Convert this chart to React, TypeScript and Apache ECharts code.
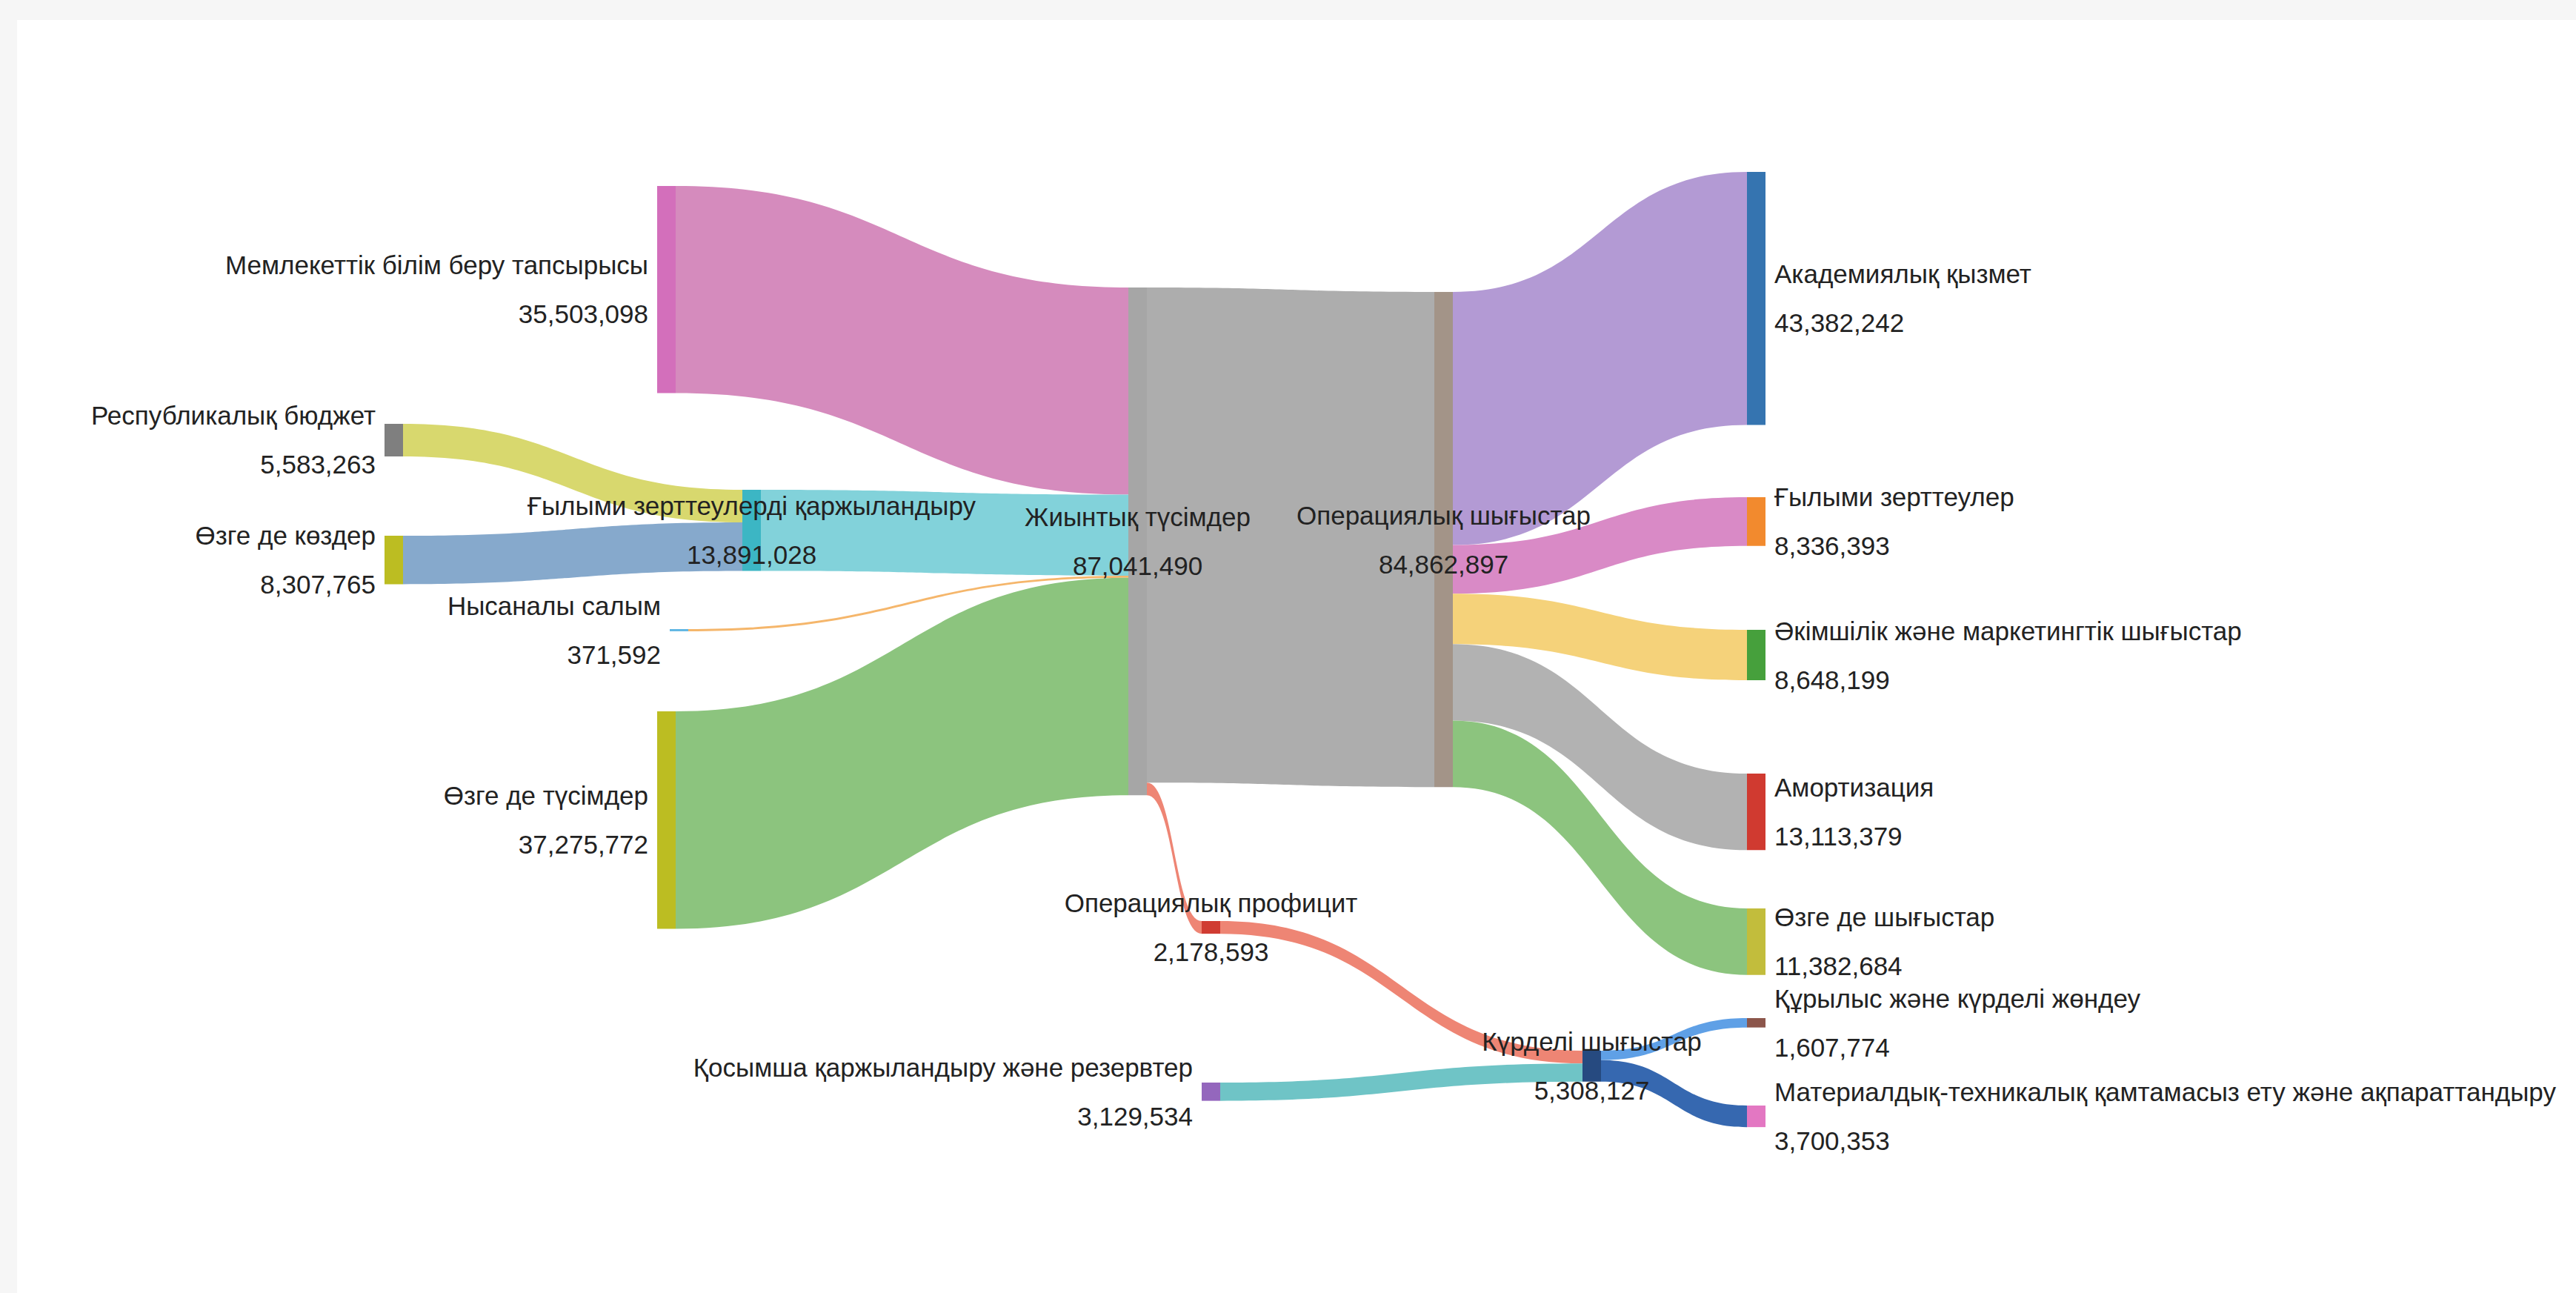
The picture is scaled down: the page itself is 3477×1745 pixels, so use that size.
import React, { useEffect, useRef } from "react";
import * as echarts from "echarts";

// ---------- DATA ----------
const nodeNames: string[] = [
  "Республикалық бюджет",
  "Өзге де көздер",
  "Мемлекеттік білім беру тапсырысы",
  "Ғылыми зерттеулерді қаржыландыру",
  "Нысаналы салым",
  "Өзге де түсімдер",
  "Жиынтық түсімдер",
  "Операциялық шығыстар",
  "Операциялық профицит",
  "Қосымша қаржыландыру және резервтер",
  "Күрделі шығыстар",
  "Академиялық қызмет",
  "Ғылыми зерттеулер",
  "Әкімшілік және маркетингтік шығыстар",
  "Амортизация",
  "Өзге де шығыстар",
  "Құрылыс және күрделі жөндеу",
  "Материалдық-техникалық қамтамасыз ету және ақпараттандыру",
];

const nodeValues: number[] = [
  5583263, 8307765, 35503098, 13891028, 371592, 37275772, 87041490, 84862897,
  2178593, 3129534, 5308127, 43382242, 8336393, 8648199, 13113379, 11382684,
  1607774, 3700353,
];

const linkSources: string[] = [
  "Республикалық бюджет",
  "Өзге де көздер",
  "Мемлекеттік білім беру тапсырысы",
  "Ғылыми зерттеулерді қаржыландыру",
  "Нысаналы салым",
  "Өзге де түсімдер",
  "Жиынтық түсімдер",
  "Жиынтық түсімдер",
  "Операциялық шығыстар",
  "Операциялық шығыстар",
  "Операциялық шығыстар",
  "Операциялық шығыстар",
  "Операциялық шығыстар",
  "Операциялық профицит",
  "Қосымша қаржыландыру және резервтер",
  "Күрделі шығыстар",
  "Күрделі шығыстар",
];

const linkTargets: string[] = [
  "Ғылыми зерттеулерді қаржыландыру",
  "Ғылыми зерттеулерді қаржыландыру",
  "Жиынтық түсімдер",
  "Жиынтық түсімдер",
  "Жиынтық түсімдер",
  "Жиынтық түсімдер",
  "Операциялық шығыстар",
  "Операциялық профицит",
  "Академиялық қызмет",
  "Ғылыми зерттеулер",
  "Әкімшілік және маркетингтік шығыстар",
  "Амортизация",
  "Өзге де шығыстар",
  "Күрделі шығыстар",
  "Күрделі шығыстар",
  "Құрылыс және күрделі жөндеу",
  "Материалдық-техникалық қамтамасыз ету және ақпараттандыру",
];

const linkValues: number[] = [
  5583263, 8307765, 35503098, 13891028, 371592, 37275772, 84862897, 2178593,
  43382242, 8336393, 8648199, 13113379, 11382684, 2178593, 3129534, 1607774,
  3700353,
];

// ---------- LAYOUT / STYLE (kept apart from the data) ----------
const W = 3477;
const H = 1745;
const nodeDepth: number[] = [0, 0, 1, 1, 1, 1, 2, 3, 3, 3, 4, 5, 5, 5, 5, 5, 5, 5];
const nodeLeftPx: number[] = [
  519, 519, 887, 1002, 904, 887, 1523, 1936, 1622, 1622, 2136, 2358, 2358, 2358,
  2358, 2358, 2358, 2358,
];
const nodeTopPx: number[] = [
  572, 723, 251, 661, 849, 960, 388, 394, 1243, 1461, 1418, 232, 671, 850, 1044,
  1226, 1374, 1492,
];
const labelPos: string[] = [
  "left", "left", "left", "inside", "left", "left", "inside", "inside", "inside",
  "left", "inside", "right", "right", "right", "right", "right", "right", "right",
];
const nodeColors: string[] = [
  "#7f7f7f", "#bcbd22", "#d36fbb", "#3cb6c4", "#5fb6e3", "#bcbd22", "#a6a6a6",
  "#a39488", "#d03c32", "#9467bd", "#264a80", "#3574b0", "#f28a2e", "#46a03c",
  "#d03a30", "#c2bd3c", "#8c564b", "#e377c2",
];
const linkColors: string[] = [
  "#d8d86e", "#86a9cc", "#d58bbd", "#82d2da", "#f5b66b", "#8cc47e", "#adadad",
  "#ee8574", "#b39ad4", "#d98ac6", "#f5d27a", "#b2b2b2", "#8cc47e", "#ee8574",
  "#6fc4c6", "#5fa0e6", "#3668b0",
];

const fmt = (v: number) => String(Math.round(v)).replace(/\B(?=(\d{3})+(?!\d))/g, ",");

export default function App() {
  const ref = useRef<HTMLDivElement>(null);

  useEffect(() => {
    if (!ref.current) return;
    const chart = echarts.init(ref.current, undefined, { renderer: "svg" });

    const nodes = nodeNames.map((name, i) => ({
      name,
      value: nodeValues[i],
      depth: nodeDepth[i],
      localX: nodeLeftPx[i] / W,
      localY: nodeTopPx[i] / H,
      itemStyle: { color: nodeColors[i], borderWidth: 0, opacity: 1 },
      label: { position: labelPos[i] },
    }));

    const links = linkSources.map((s, i) => ({
      source: s,
      target: linkTargets[i],
      value: linkValues[i],
      lineStyle: { color: linkColors[i], opacity: 1, curveness: 0.5 },
    }));

    chart.setOption({
      animation: false,
      backgroundColor: "transparent",
      tooltip: { show: false },
      series: [
        {
          type: "sankey",
          left: 0,
          top: 0,
          right: 0,
          bottom: 0,
          nodeWidth: 25,
          nodeGap: 172.5,
          layoutIterations: 0,
          draggable: false,
          emphasis: { disabled: true },
          data: nodes,
          links,
          label: {
            show: true,
            fontFamily: "Liberation Sans, Arial, DejaVu Sans, sans-serif",
            fontSize: 35,
            lineHeight: 66,
            color: "#222222",
            textBorderWidth: 0,
            distance: 12,
            formatter: (p: any) => `${p.name}\n${fmt(p.value)}`,
          },
          lineStyle: { curveness: 0.5, opacity: 1 },
        },
      ],
    });

    return () => chart.dispose();
  }, []);

  return (
    <div
      style={{
        position: "fixed",
        left: 0,
        top: 0,
        width: W,
        height: H,
        background: "#f6f6f6",
        overflow: "hidden",
      }}
    >
      <div
        style={{
          position: "absolute",
          left: 23,
          top: 27,
          right: 0,
          bottom: 0,
          background: "#ffffff",
        }}
      />
      <div
        ref={ref}
        style={{ position: "absolute", left: 0, top: 0, width: W, height: H }}
      />
    </div>
  );
}
